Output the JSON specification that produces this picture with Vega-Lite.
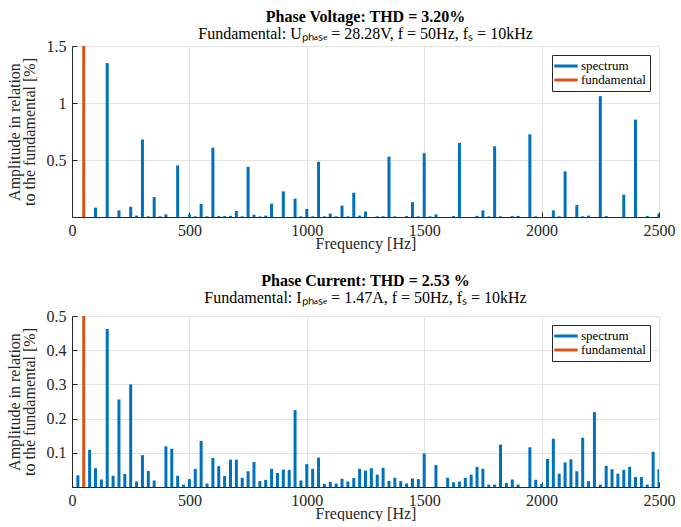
{
  "$schema": "https://vega.github.io/schema/vega-lite/v6.json",
  "padding": {"left": 6, "top": 9, "right": 0, "bottom": 0},
  "spacing": 22,
  "config": {
    "font": "Liberation Serif",
    "view": {"stroke": null},
    "title": {"font": "Liberation Serif", "fontSize": 16, "fontWeight": "bold", "color": "#000000", "subtitleFont": "Liberation Serif", "subtitleFontSize": 16, "subtitleColor": "#000000", "subtitlePadding": 1, "offset": -4, "anchor": "middle"},
    "axis": {"labelFont": "Liberation Serif", "labelFontSize": 16, "labelColor": "#262626", "titleFont": "Liberation Serif", "titleFontSize": 16, "titleFontWeight": "normal", "titleColor": "#262626", "domainColor": "#262626", "tickColor": "#262626", "gridColor": "#e3e3e3", "labelFlush": false, "labelOverlap": false},
    "legend": {"labelFont": "Liberation Serif", "labelFontSize": 13, "labelColor": "#000000"}
  },
  "datasets": {
    "voltage": [
      {"f": 50, "a": 100, "s": "fundamental"},
      {"f": 100, "a": 0.082, "s": "spectrum"},
      {"f": 150, "a": 1.35, "s": "spectrum"},
      {"f": 200, "a": 0.058, "s": "spectrum"},
      {"f": 250, "a": 0.09, "s": "spectrum"},
      {"f": 275, "a": 0.012, "s": "spectrum"},
      {"f": 300, "a": 0.68, "s": "spectrum"},
      {"f": 325, "a": 0.006, "s": "spectrum"},
      {"f": 350, "a": 0.175, "s": "spectrum"},
      {"f": 375, "a": 0.006, "s": "spectrum"},
      {"f": 400, "a": 0.023, "s": "spectrum"},
      {"f": 450, "a": 0.453, "s": "spectrum"},
      {"f": 500, "a": 0.022, "s": "spectrum"},
      {"f": 525, "a": 0.006, "s": "spectrum"},
      {"f": 550, "a": 0.114, "s": "spectrum"},
      {"f": 575, "a": 0.006, "s": "spectrum"},
      {"f": 600, "a": 0.608, "s": "spectrum"},
      {"f": 625, "a": 0.008, "s": "spectrum"},
      {"f": 650, "a": 0.008, "s": "spectrum"},
      {"f": 675, "a": 0.01, "s": "spectrum"},
      {"f": 700, "a": 0.053, "s": "spectrum"},
      {"f": 725, "a": 0.006, "s": "spectrum"},
      {"f": 750, "a": 0.44, "s": "spectrum"},
      {"f": 775, "a": 0.02, "s": "spectrum"},
      {"f": 800, "a": 0.005, "s": "spectrum"},
      {"f": 825, "a": 0.012, "s": "spectrum"},
      {"f": 850, "a": 0.117, "s": "spectrum"},
      {"f": 900, "a": 0.225, "s": "spectrum"},
      {"f": 950, "a": 0.161, "s": "spectrum"},
      {"f": 975, "a": 0.006, "s": "spectrum"},
      {"f": 1000, "a": 0.07, "s": "spectrum"},
      {"f": 1025, "a": 0.006, "s": "spectrum"},
      {"f": 1050, "a": 0.485, "s": "spectrum"},
      {"f": 1075, "a": 0.006, "s": "spectrum"},
      {"f": 1100, "a": 0.03, "s": "spectrum"},
      {"f": 1125, "a": 0.006, "s": "spectrum"},
      {"f": 1150, "a": 0.1, "s": "spectrum"},
      {"f": 1175, "a": 0.006, "s": "spectrum"},
      {"f": 1200, "a": 0.213, "s": "spectrum"},
      {"f": 1225, "a": 0.012, "s": "spectrum"},
      {"f": 1250, "a": 0.048, "s": "spectrum"},
      {"f": 1300, "a": 0.006, "s": "spectrum"},
      {"f": 1325, "a": 0.006, "s": "spectrum"},
      {"f": 1350, "a": 0.53, "s": "spectrum"},
      {"f": 1375, "a": 0.006, "s": "spectrum"},
      {"f": 1425, "a": 0.008, "s": "spectrum"},
      {"f": 1450, "a": 0.13, "s": "spectrum"},
      {"f": 1475, "a": 0.006, "s": "spectrum"},
      {"f": 1500, "a": 0.56, "s": "spectrum"},
      {"f": 1525, "a": 0.006, "s": "spectrum"},
      {"f": 1550, "a": 0.023, "s": "spectrum"},
      {"f": 1625, "a": 0.008, "s": "spectrum"},
      {"f": 1650, "a": 0.65, "s": "spectrum"},
      {"f": 1725, "a": 0.01, "s": "spectrum"},
      {"f": 1750, "a": 0.058, "s": "spectrum"},
      {"f": 1775, "a": 0.006, "s": "spectrum"},
      {"f": 1800, "a": 0.62, "s": "spectrum"},
      {"f": 1825, "a": 0.006, "s": "spectrum"},
      {"f": 1875, "a": 0.008, "s": "spectrum"},
      {"f": 1900, "a": 0.01, "s": "spectrum"},
      {"f": 1950, "a": 0.725, "s": "spectrum"},
      {"f": 1975, "a": 0.006, "s": "spectrum"},
      {"f": 2050, "a": 0.058, "s": "spectrum"},
      {"f": 2075, "a": 0.006, "s": "spectrum"},
      {"f": 2100, "a": 0.4, "s": "spectrum"},
      {"f": 2150, "a": 0.105, "s": "spectrum"},
      {"f": 2175, "a": 0.006, "s": "spectrum"},
      {"f": 2200, "a": 0.012, "s": "spectrum"},
      {"f": 2250, "a": 1.06, "s": "spectrum"},
      {"f": 2275, "a": 0.008, "s": "spectrum"},
      {"f": 2350, "a": 0.196, "s": "spectrum"},
      {"f": 2400, "a": 0.854, "s": "spectrum"},
      {"f": 2450, "a": 0.008, "s": "spectrum"},
      {"f": 2500, "a": 0.03, "s": "spectrum"}
    ],
    "current": [
      {"f": 25, "a": 0.034, "s": "spectrum"},
      {"f": 50, "a": 100, "s": "fundamental"},
      {"f": 75, "a": 0.109, "s": "spectrum"},
      {"f": 100, "a": 0.055, "s": "spectrum"},
      {"f": 125, "a": 0.022, "s": "spectrum"},
      {"f": 150, "a": 0.462, "s": "spectrum"},
      {"f": 175, "a": 0.033, "s": "spectrum"},
      {"f": 200, "a": 0.256, "s": "spectrum"},
      {"f": 225, "a": 0.038, "s": "spectrum"},
      {"f": 250, "a": 0.3, "s": "spectrum"},
      {"f": 275, "a": 0.016, "s": "spectrum"},
      {"f": 300, "a": 0.093, "s": "spectrum"},
      {"f": 325, "a": 0.047, "s": "spectrum"},
      {"f": 350, "a": 0.019, "s": "spectrum"},
      {"f": 400, "a": 0.119, "s": "spectrum"},
      {"f": 425, "a": 0.112, "s": "spectrum"},
      {"f": 450, "a": 0.033, "s": "spectrum"},
      {"f": 475, "a": 0.007, "s": "spectrum"},
      {"f": 500, "a": 0.023, "s": "spectrum"},
      {"f": 525, "a": 0.053, "s": "spectrum"},
      {"f": 550, "a": 0.135, "s": "spectrum"},
      {"f": 575, "a": 0.01, "s": "spectrum"},
      {"f": 600, "a": 0.085, "s": "spectrum"},
      {"f": 625, "a": 0.061, "s": "spectrum"},
      {"f": 650, "a": 0.032, "s": "spectrum"},
      {"f": 675, "a": 0.08, "s": "spectrum"},
      {"f": 700, "a": 0.08, "s": "spectrum"},
      {"f": 725, "a": 0.027, "s": "spectrum"},
      {"f": 750, "a": 0.046, "s": "spectrum"},
      {"f": 775, "a": 0.073, "s": "spectrum"},
      {"f": 800, "a": 0.017, "s": "spectrum"},
      {"f": 825, "a": 0.021, "s": "spectrum"},
      {"f": 850, "a": 0.053, "s": "spectrum"},
      {"f": 875, "a": 0.041, "s": "spectrum"},
      {"f": 900, "a": 0.051, "s": "spectrum"},
      {"f": 925, "a": 0.05, "s": "spectrum"},
      {"f": 950, "a": 0.225, "s": "spectrum"},
      {"f": 975, "a": 0.019, "s": "spectrum"},
      {"f": 1000, "a": 0.067, "s": "spectrum"},
      {"f": 1025, "a": 0.053, "s": "spectrum"},
      {"f": 1050, "a": 0.086, "s": "spectrum"},
      {"f": 1075, "a": 0.009, "s": "spectrum"},
      {"f": 1100, "a": 0.015, "s": "spectrum"},
      {"f": 1125, "a": 0.01, "s": "spectrum"},
      {"f": 1150, "a": 0.024, "s": "spectrum"},
      {"f": 1175, "a": 0.016, "s": "spectrum"},
      {"f": 1200, "a": 0.026, "s": "spectrum"},
      {"f": 1225, "a": 0.053, "s": "spectrum"},
      {"f": 1250, "a": 0.048, "s": "spectrum"},
      {"f": 1275, "a": 0.055, "s": "spectrum"},
      {"f": 1300, "a": 0.036, "s": "spectrum"},
      {"f": 1325, "a": 0.056, "s": "spectrum"},
      {"f": 1350, "a": 0.018, "s": "spectrum"},
      {"f": 1375, "a": 0.027, "s": "spectrum"},
      {"f": 1400, "a": 0.017, "s": "spectrum"},
      {"f": 1425, "a": 0.01, "s": "spectrum"},
      {"f": 1450, "a": 0.025, "s": "spectrum"},
      {"f": 1475, "a": 0.023, "s": "spectrum"},
      {"f": 1500, "a": 0.098, "s": "spectrum"},
      {"f": 1550, "a": 0.064, "s": "spectrum"},
      {"f": 1600, "a": 0.027, "s": "spectrum"},
      {"f": 1625, "a": 0.014, "s": "spectrum"},
      {"f": 1650, "a": 0.016, "s": "spectrum"},
      {"f": 1675, "a": 0.027, "s": "spectrum"},
      {"f": 1700, "a": 0.036, "s": "spectrum"},
      {"f": 1725, "a": 0.059, "s": "spectrum"},
      {"f": 1750, "a": 0.053, "s": "spectrum"},
      {"f": 1775, "a": 0.007, "s": "spectrum"},
      {"f": 1800, "a": 0.007, "s": "spectrum"},
      {"f": 1825, "a": 0.124, "s": "spectrum"},
      {"f": 1850, "a": 0.012, "s": "spectrum"},
      {"f": 1875, "a": 0.022, "s": "spectrum"},
      {"f": 1900, "a": 0.007, "s": "spectrum"},
      {"f": 1950, "a": 0.116, "s": "spectrum"},
      {"f": 1975, "a": 0.021, "s": "spectrum"},
      {"f": 2000, "a": 0.009, "s": "spectrum"},
      {"f": 2025, "a": 0.082, "s": "spectrum"},
      {"f": 2050, "a": 0.141, "s": "spectrum"},
      {"f": 2075, "a": 0.039, "s": "spectrum"},
      {"f": 2100, "a": 0.072, "s": "spectrum"},
      {"f": 2125, "a": 0.081, "s": "spectrum"},
      {"f": 2150, "a": 0.046, "s": "spectrum"},
      {"f": 2175, "a": 0.144, "s": "spectrum"},
      {"f": 2200, "a": 0.017, "s": "spectrum"},
      {"f": 2225, "a": 0.219, "s": "spectrum"},
      {"f": 2250, "a": 0.007, "s": "spectrum"},
      {"f": 2275, "a": 0.062, "s": "spectrum"},
      {"f": 2300, "a": 0.052, "s": "spectrum"},
      {"f": 2325, "a": 0.039, "s": "spectrum"},
      {"f": 2350, "a": 0.05, "s": "spectrum"},
      {"f": 2375, "a": 0.059, "s": "spectrum"},
      {"f": 2400, "a": 0.029, "s": "spectrum"},
      {"f": 2425, "a": 0.029, "s": "spectrum"},
      {"f": 2450, "a": 0.007, "s": "spectrum"},
      {"f": 2475, "a": 0.103, "s": "spectrum"},
      {"f": 2500, "a": 0.052, "s": "spectrum"}
    ]
  },
  "vconcat": [
    {
      "title": {"text": "Phase Voltage: THD = 3.20%", "subtitle": "Fundamental: Uₚₕₐₛₑ = 28.28V, f = 50Hz, fₛ = 10kHz"},
      "width": 587,
      "height": 171,
      "data": {"name": "voltage"},
      "mark": {"type": "bar", "size": 3, "clip": true},
      "encoding": {
        "x": {"field": "f", "type": "quantitative", "scale": {"domain": [0, 2500], "nice": false, "padding": 0},
              "axis": {"title": "Frequency [Hz]", "values": [0, 500, 1000, 1500, 2000, 2500], "format": "d", "labelFont": "Liberation Serif", "tickSize": -5, "labelPadding": 10, "titlePadding": -3}},
        "y": {"field": "a", "type": "quantitative", "scale": {"domain": [0, 1.5], "nice": false, "padding": 0},
              "axis": {"title": ["Amplitude in relation", "to the fundamental [%]"], "titleLineHeight": 15, "values": [0, 0.5, 1, 1.5], "format": "~g", "labelFont": "Liberation Serif", "labelExpr": "datum.value == 0 ? '' : datum.label", "tickSize": -5, "labelPadding": 11, "titlePadding": 9}},
        "color": {"field": "s", "type": "nominal", "scale": {"domain": ["spectrum", "fundamental"], "range": ["#0072BD", "#D95319"]},
                  "legend": {"title": null, "orient": "top-right", "offset": 9, "symbolType": "M-1.95,-0.25H1.95V0.25H-1.95Z", "symbolSize": 144, "symbolOffset": 3, "labelOffset": 8, "labelFont": "Liberation Serif", "strokeColor": "#262626", "fillColor": "#ffffff", "padding": 4, "rowPadding": 0}}
      }
    },
    {
      "title": {"text": "Phase Current: THD = 2.53 %", "subtitle": "Fundamental: Iₚₕₐₛₑ = 1.47A, f = 50Hz, fₛ = 10kHz", "offset": 2},
      "width": 587,
      "height": 171,
      "data": {"name": "current"},
      "mark": {"type": "bar", "size": 3, "clip": true},
      "encoding": {
        "x": {"field": "f", "type": "quantitative", "scale": {"domain": [0, 2500], "nice": false, "padding": 0},
              "axis": {"title": "Frequency [Hz]", "values": [0, 500, 1000, 1500, 2000, 2500], "format": "d", "labelFont": "Liberation Serif", "tickSize": -5, "labelPadding": 10, "titlePadding": -3}},
        "y": {"field": "a", "type": "quantitative", "scale": {"domain": [0, 0.5], "nice": false, "padding": 0},
              "axis": {"title": ["Amplitude in relation", "to the fundamental [%]"], "titleLineHeight": 15, "values": [0, 0.1, 0.2, 0.3, 0.4, 0.5], "format": "~g", "labelFont": "Liberation Serif", "labelExpr": "datum.value == 0 ? '' : datum.label", "tickSize": -5, "labelPadding": 11, "titlePadding": 9}},
        "color": {"field": "s", "type": "nominal", "scale": {"domain": ["spectrum", "fundamental"], "range": ["#0072BD", "#D95319"]},
                  "legend": {"title": null, "orient": "top-right", "offset": 9, "symbolType": "M-1.95,-0.25H1.95V0.25H-1.95Z", "symbolSize": 144, "symbolOffset": 3, "labelOffset": 8, "labelFont": "Liberation Serif", "strokeColor": "#262626", "fillColor": "#ffffff", "padding": 4, "rowPadding": 0}}
      }
    }
  ],
  "resolve": {"legend": {"color": "independent"}}
}
